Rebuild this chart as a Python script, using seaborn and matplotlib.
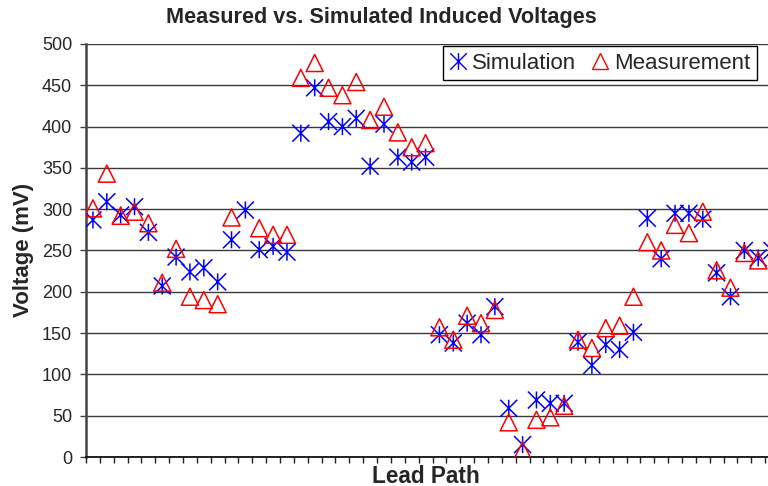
import numpy as np
import pandas as pd
import matplotlib
matplotlib.use("Agg")
import matplotlib.pyplot as plt
from matplotlib.path import Path
from matplotlib.lines import Line2D
import seaborn as sns

# ---- data ----
lead_path = list(range(50))
simulation = [287, 309, 293, 303, 272, 207, 242, 224, 229, 212,
              263, 299, 251, 255, 248, 392, 447, 406, 400, 410,
              352, 403, 363, 357, 363, 148, 138, 162, 148, 182,
              59, 15, 69, 65, 65, 139, 111, 136, 130, 151,
              289, 240, 295, 295, 288, 223, 194, 250, 241, 250]
measurement = [301, 343, 292, 297, 283, 211, 252, 194, 190, 185,
               290, np.nan, 277, 269, 269, 459, 477, 447, 438, 454,
               408, 424, 393, 375, 380, 157, 142, 171, 162, 178,
               42, 8, 45, 48, 62, 142, 132, 156, 159, 194,
               260, 250, 281, 271, 297, 226, 205, 247, 238, np.nan]
y_ticks = list(range(0, 501, 50))

df = pd.DataFrame({"x": lead_path, "Simulation": simulation, "Measurement": measurement})

sns.set_theme(style="white")
plt.rcParams['font.family'] = ['Liberation Sans', 'DejaVu Sans']

fig = plt.figure(figsize=(7.68, 4.86), dpi=100)
ax = fig.add_axes([86/768, 29/486, 693/768, 413/486])

star = Path([(0, -1), (0, 1), (-1, -1), (1, 1), (-1, 1), (1, -1)],
            [Path.MOVETO, Path.LINETO, Path.MOVETO, Path.LINETO, Path.MOVETO, Path.LINETO])

sns.scatterplot(data=df, x="x", y="Simulation", ax=ax, marker=star, s=150,
                facecolor="none", edgecolor="#0000FF", linewidth=1.1, zorder=3, legend=False)
sns.scatterplot(data=df, x="x", y="Measurement", ax=ax, marker="^", s=150,
                facecolor="none", edgecolor="#FF0000", linewidth=1.1, zorder=4, legend=False)

ax.set_xlim(-0.5, len(lead_path) - 0.5)
ax.set_ylim(0, 500)
ax.set_yticks(y_ticks)
ax.set_yticklabels([str(v) for v in y_ticks], fontsize=13)
ax.set_xticks(np.arange(-0.5, len(lead_path), 1.0))
ax.set_xticklabels([])
ax.tick_params(axis="y", direction="out", length=4, width=1, color="#444444", pad=6, left=True)
ax.tick_params(axis="x", direction="out", length=4, width=1, color="#222222", bottom=True)
ax.yaxis.grid(True, color="#3a3a3a", linewidth=1)
ax.xaxis.grid(False)
ax.set_axisbelow(True)
for s in ["top", "right"]:
    ax.spines[s].set_visible(False)
ax.spines["left"].set_color("#444444")
ax.spines["left"].set_linewidth(1.8)
ax.spines["bottom"].set_color("#111111")
ax.spines["bottom"].set_linewidth(1.3)
ax.set_xlabel("")
ax.set_ylabel("")

fig.text(381/768, 1 - 18/486, "Measured vs. Simulated Induced Voltages",
         ha="center", va="center", fontsize=15.6, fontweight="bold")
fig.text(23/768, 1 - 250/486, "Voltage (mV)", rotation=90,
         ha="center", va="center", fontsize=16, fontweight="bold")
fig.text(426/768, 1 - 476/486, "Lead Path",
         ha="center", va="center", fontsize=16.3, fontweight="bold")

handles = [
    Line2D([], [], linestyle="none", marker=star, markersize=12, markeredgecolor="#0000FF",
           markerfacecolor="none", markeredgewidth=1.0),
    Line2D([], [], linestyle="none", marker="^", markersize=11, markeredgecolor="#FF0000",
           markerfacecolor="none", markeredgewidth=1.0),
]
leg = ax.legend(handles, ["Simulation", "Measurement"], ncol=2, fontsize=16,
                loc="upper right", bbox_to_anchor=((757-86)/693, (457-46)/413),
                frameon=True, fancybox=False, framealpha=1, edgecolor="black",
                handlelength=0.7, handletextpad=0.3, columnspacing=0.7,
                borderpad=0.3, borderaxespad=0)
leg.get_frame().set_linewidth(1.0)

fig.savefig("out.png", dpi=100)
